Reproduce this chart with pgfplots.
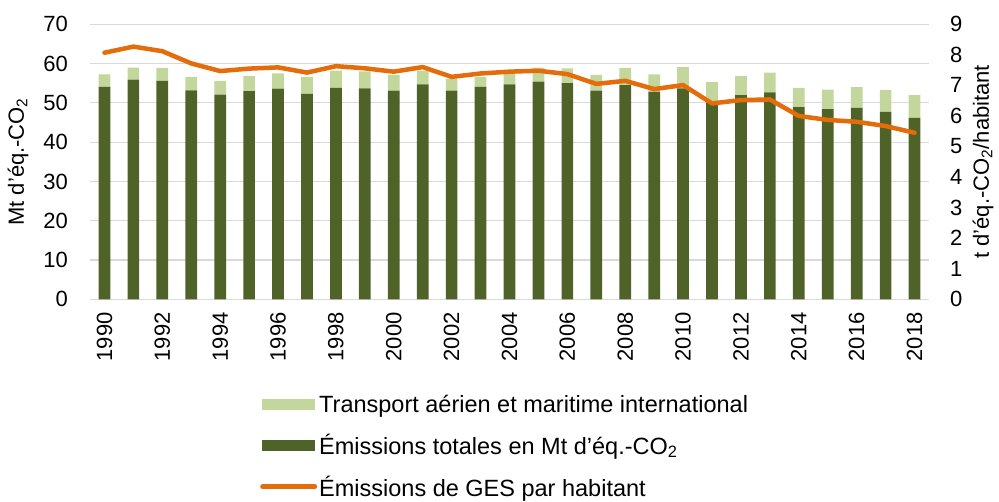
\documentclass[border=0pt]{standalone}
\usepackage{fontspec}
\setmainfont{Liberation Sans}
\usepackage{pgfplots}
\usepackage{pgfplotstable}
\pgfplotsset{compat=1.18}
\definecolor{DarkOlive}{HTML}{4F6228}
\definecolor{LightOlive}{HTML}{C3D69B}
\definecolor{Orange}{HTML}{E46C0A}
\definecolor{GridGray}{HTML}{D9D9D9}

% year, total emissions (dark), international transport (light)
\pgfplotstableread{
year total transport
1990 54.1 3.15
1991 55.9 3.1
1992 55.6 3.3
1993 53.2 3.4
1994 52.1 3.5
1995 53.0 3.8
1996 53.6 3.9
1997 52.3 4.3
1998 53.8 4.4
1999 53.7 4.3
2000 53.1 4.0
2001 54.7 3.5
2002 53.1 3.0
2003 54.1 2.5
2004 54.7 2.9
2005 55.4 3.6
2006 55.0 3.8
2007 53.1 4.0
2008 54.5 4.4
2009 52.8 4.45
2010 53.7 5.4
2011 50.0 5.3
2012 52.0 4.8
2013 52.7 5.0
2014 48.9 4.9
2015 48.4 5.0
2016 48.7 5.3
2017 47.7 5.6
2018 46.2 5.8
}\emissions

% per capita emissions (right axis)
\pgfplotstableread{
year percap
1990 8.07
1991 8.27
1992 8.12
1993 7.72
1994 7.47
1995 7.55
1996 7.59
1997 7.42
1998 7.63
1999 7.56
2000 7.45
2001 7.60
2002 7.28
2003 7.39
2004 7.45
2005 7.48
2006 7.37
2007 7.05
2008 7.15
2009 6.88
2010 7.01
2011 6.41
2012 6.52
2013 6.54
2014 6.00
2015 5.87
2016 5.81
2017 5.67
2018 5.45
}\percapita

\newcommand{\tickfont}{\fontsize{22}{24}\selectfont}
\newcommand{\labfont}{\fontsize{22}{24}\selectfont}

\pgfplotsset{
  base/.style={
    at={(90pt,202.7pt)}, anchor=south west,
    width=839pt, height=275pt, scale only axis,
    xmin=1989.5, xmax=2018.5,
    axis line style={draw=none},
    major tick length=0pt,
    tick style={draw=none},
    ticklabel style={font=\tickfont, inner sep=0pt},
    /pgf/number format/assume math mode=true,
    /pgf/number format/1000 sep={},
  },
}

\begin{document}
\begin{tikzpicture}
  \useasboundingbox (0,0) rectangle (999pt,502pt);
  \begin{axis}[
    base,
    ybar stacked, bar width=11.7pt,
    ymin=0, ymax=70, ytick={0,10,...,70},
    ymajorgrids, grid style={GridGray, line width=1.2pt},
    yticklabel shift=22pt,
    xtick={1990,1992,...,2018},
    xticklabel style={rotate=90, anchor=east},
    xticklabel shift=13pt,
    ylabel={Mt d'éq.-CO\textsubscript{2}},
    ylabel style={font=\labfont, at={(axis description cs:-0.0858,0.5)},
      anchor=center},
    ]
    \addplot[fill=DarkOlive, draw=none] table[x=year, y=total] {\emissions};
    \addplot[fill=LightOlive, draw=none] table[x=year, y=transport] {\emissions};
  \end{axis}
  \begin{axis}[
    base,
    axis x line=none,
    axis y line*=right,
    ymin=0, ymax=9, ytick={0,1,...,9},
    yticklabel shift=21pt,
    ylabel={t d'éq.-CO\textsubscript{2}/habitant},
    ylabel style={font=\labfont, at={(axis description cs:1.0644,0.5)},
      anchor=center},
    legend cell align=left,
    legend style={at={(axis description cs:0.2026,-0.34)}, anchor=north west,
      draw=none, fill=none, inner sep=0pt,
      row sep=16pt, font=\fontsize{23.5}{25}\selectfont},
    ]
    \addlegendimage{legend image code/.code={\fill[LightOlive] (0pt,-5pt) rectangle (52pt,5pt);}}
    \addlegendentry{Transport aérien et maritime international}
    \addlegendimage{legend image code/.code={\fill[DarkOlive] (0pt,-5pt) rectangle (52pt,5pt);}}
    \addlegendentry{Émissions totales en Mt d’éq.-CO\textsubscript{2}}
    \addplot[Orange, line width=4.5pt, line join=round, line cap=round,
      legend image code/.code={\draw[Orange, line width=5pt, line cap=round] (0pt,0pt) -- (52pt,0pt);}]
      table[x=year, y=percap] {\percapita};
    \addlegendentry{Émissions de GES par habitant}
  \end{axis}
\end{tikzpicture}
\end{document}
